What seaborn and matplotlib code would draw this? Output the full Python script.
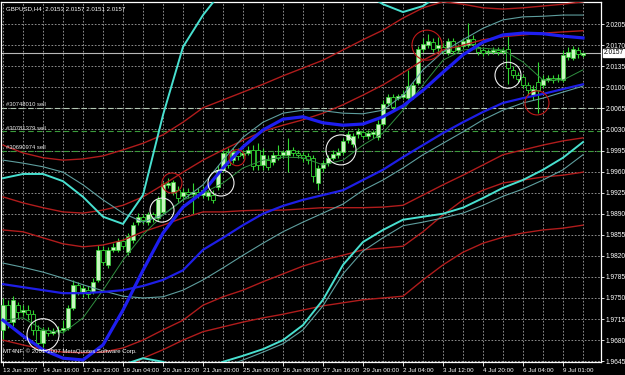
import numpy as np
import pandas as pd
import matplotlib
matplotlib.use("Agg")
import matplotlib.pyplot as plt
import matplotlib.transforms as mtransforms
import seaborn as sns

# ---------------- data ----------------
title_text = "GBPUSD,H4  2.0153 2.0157 2.0151 2.0157"
copyright_text = "MT4NF, \u00a9 2001-2007 MetaQuotes Software Corp."

opens = [1.9697,1.9738,1.9710,1.9738,1.9727,1.9730,1.9723,1.9697,1.9675,1.9697,
         1.9692,1.9695,1.9697,1.9700,1.9733,1.9772,1.9760,1.9763,1.9760,1.9780,
         1.9830,1.9805,1.9830,1.9830,1.9845,1.9826,1.9846,1.9876,1.9884,1.9876,
         1.9889,1.9883,1.9893,1.9938,1.9926,1.9929,1.9919,1.9926,1.9923,1.9926,
         1.9921,1.9919,1.9921,1.9934,1.9962,1.9992,1.9979,1.9992,1.9987,1.9991,
         1.9996,1.9996,1.9971,1.9979,1.9976,1.9987,1.9987,1.9987,1.9996,1.9991,
         1.9987,1.9986,1.9982,1.9941,1.9966,1.9974,1.9982,1.9987,1.9992,2.0012,
         2.0006,2.0022,2.0026,2.0019,2.0022,2.0017,2.0039,2.0074,2.0084,2.0082,
         2.0084,2.0082,2.0084,2.0107,2.0164,2.0170,2.0175,2.0165,2.0167,2.0157,
         2.0177,2.0162,2.0169,2.0170,2.0180,2.0167,2.0162,2.0159,2.0159,2.0162,
         2.0159,2.0164,2.0129,2.0120,2.0117,2.0104,2.0087,2.0109,2.0104,2.0112,
         2.0115,2.0114,2.0112,2.0150,2.0149,2.0162,2.0153]
highs = [1.9750,1.9747,1.9753,1.9743,1.9738,1.9738,1.9730,1.9705,1.9702,1.9702,
         1.9700,1.9703,1.9713,1.9738,1.9780,1.9777,1.9772,1.9770,1.9783,1.9838,
         1.9836,1.9835,1.9841,1.9850,1.9850,1.9858,1.9876,1.9891,1.9889,1.9893,
         1.9893,1.9919,1.9943,1.9949,1.9946,1.9936,1.9933,1.9933,1.9941,1.9933,
         1.9936,1.9929,1.9929,1.9971,1.9996,1.9999,1.9999,1.9999,1.9996,2.0002,
         2.0004,2.0007,1.9999,1.9987,1.9992,2.0004,1.9996,2.0016,2.0001,1.9996,
         1.9992,1.9991,1.9987,1.9971,1.9979,1.9987,1.9996,1.9999,2.0016,2.0027,
         2.0024,2.0032,2.0029,2.0029,2.0029,2.0045,2.0079,2.0089,2.0089,2.0089,
         2.0095,2.0129,2.0109,2.0169,2.0182,2.0189,2.0182,2.0184,2.0174,2.0182,
         2.0182,2.0172,2.0182,2.0207,2.0187,2.0172,2.0167,2.0164,2.0167,2.0167,
         2.0167,2.0189,2.0135,2.0125,2.0122,2.0109,2.0104,2.0142,2.0120,2.0120,
         2.0120,2.0122,2.0162,2.0167,2.0169,2.0167,2.0157]
lows = [1.9680,1.9700,1.9703,1.9717,1.9720,1.9713,1.9689,1.9667,1.9669,1.9687,
        1.9689,1.9690,1.9692,1.9697,1.9730,1.9755,1.9752,1.9750,1.9757,1.9777,
        1.9805,1.9800,1.9826,1.9826,1.9831,1.9821,1.9841,1.9871,1.9873,1.9871,
        1.9876,1.9878,1.9889,1.9933,1.9921,1.9909,1.9912,1.9916,1.9889,1.9916,
        1.9916,1.9912,1.9907,1.9929,1.9959,1.9966,1.9974,1.9979,1.9982,1.9987,
        1.9962,1.9962,1.9962,1.9962,1.9971,1.9979,1.9982,1.9959,1.9986,1.9982,
        1.9976,1.9972,1.9943,1.9929,1.9959,1.9969,1.9979,1.9982,1.9987,2.0007,
        2.0001,2.0016,2.0014,2.0014,2.0016,2.0012,2.0036,2.0069,2.0062,2.0079,
        2.0081,2.0079,2.0081,2.0104,2.0159,2.0165,2.0159,2.0159,2.0155,2.0154,
        2.0155,2.0157,2.0165,2.0167,2.0169,2.0154,2.0152,2.0154,2.0155,2.0154,
        2.0155,2.0105,2.0115,2.0109,2.0099,2.0087,2.0079,2.0057,2.0099,2.0109,
        2.0107,2.0109,2.0109,2.0145,2.0145,2.0149,2.0151]
closes = [1.9738,1.9710,1.9747,1.9727,1.9730,1.9723,1.9697,1.9675,1.9697,1.9692,
          1.9695,1.9697,1.9700,1.9733,1.9772,1.9760,1.9767,1.9757,1.9777,1.9830,
          1.9810,1.9830,1.9835,1.9845,1.9836,1.9853,1.9871,1.9884,1.9879,1.9889,
          1.9883,1.9914,1.9939,1.9941,1.9943,1.9916,1.9926,1.9923,1.9926,1.9921,
          1.9929,1.9926,1.9912,1.9962,1.9991,1.9971,1.9992,1.9986,1.9991,1.9996,
          1.9969,1.9971,1.9987,1.9967,1.9987,1.9982,1.9992,1.9996,1.9991,1.9987,
          1.9982,1.9979,1.9953,1.9966,1.9974,1.9982,1.9989,1.9992,2.0011,2.0022,
          2.0019,2.0027,2.0019,2.0024,2.0026,2.0039,2.0072,2.0084,2.0067,2.0086,
          2.0089,2.0102,2.0104,2.0164,2.0172,2.0177,2.0164,2.0170,2.0160,2.0177,
          2.0160,2.0167,2.0177,2.0180,2.0172,2.0159,2.0157,2.0160,2.0162,2.0159,
          2.0162,2.0132,2.0120,2.0114,2.0104,2.0095,2.0097,2.0095,2.0114,2.0115,
          2.0112,2.0115,2.0154,2.0159,2.0164,2.0155,2.0157]

# indicator lines, sampled every 4 bars
line_bars = list(range(0, 117, 4))
blue_ma = [1.9713,1.9687,1.9664,1.9650,1.9647,1.9672,1.9730,1.9796,1.9858,1.9901,
           1.9926,1.9966,2.0001,2.0029,2.0047,2.0051,2.0041,2.0037,2.0039,2.0051,
           2.0069,2.0095,2.0125,2.0154,2.0175,2.0187,2.0190,2.0189,2.0185,2.0182]
blue_low = [1.9773,1.9768,1.9763,1.9758,1.9758,1.9760,1.9763,1.9770,1.9780,1.9796,
            1.9830,1.9850,1.9871,1.9890,1.9903,1.9913,1.9921,1.9929,1.9946,1.9963,
            1.9984,2.0004,2.0024,2.0042,2.0059,2.0074,2.0082,2.0089,2.0097,2.0105]
teal_low = [1.9808,1.9801,1.9793,1.9783,1.9772,1.9762,1.9753,1.9750,1.9752,1.9763,
            1.9780,1.9800,1.9821,1.9841,1.9860,1.9876,1.9891,1.9906,1.9929,1.9946,
            1.9966,1.9988,2.0007,2.0026,2.0046,2.0062,2.0074,2.0082,2.0092,2.0102]
teal_up = [1.9979,1.9974,1.9968,1.9959,1.9938,1.9913,1.9891,1.9876,1.9888,1.9913,
           1.9938,1.9979,2.0017,2.0042,2.0057,2.0062,2.0061,2.0057,2.0056,2.0062,
           2.0087,2.0129,2.0159,2.0179,2.0198,2.0212,2.0217,2.0218,2.0220,2.0220]
cyan_up = [1.9949,1.9956,1.9956,1.9944,1.9918,1.9885,1.9873,1.9921,2.0054,2.0167,
           2.0220,2.0262,2.0295,2.0311,2.0311,2.0311,2.0295,2.0278,2.0258,2.0238,
           2.0225,2.0235,2.0258,2.0278,2.0295,2.0295,2.0295,2.0295,2.0295,2.0295]
cyan_low = [1.9581,1.9581,1.9589,1.9597,1.9605,1.9622,1.9639,1.9650,1.9644,1.9627,
            1.9630,1.9644,1.9654,1.9665,1.9680,1.9705,1.9747,1.9805,1.9843,1.9863,
            1.9880,1.9885,1.9890,1.9900,1.9916,1.9933,1.9946,1.9963,1.9983,2.0009]
teal_low2 = [1.9572,1.9572,1.9581,1.9589,1.9597,1.9614,1.9630,1.9642,1.9635,1.9619,
             1.9622,1.9635,1.9647,1.9660,1.9674,1.9697,1.9737,1.9790,1.9828,1.9850,
             1.9870,1.9876,1.9883,1.9891,1.9904,1.9919,1.9931,1.9946,1.9963,1.9988]
red_1 = [2.0004,1.9991,1.9983,1.9979,1.9981,1.9986,1.9996,2.0007,2.0021,2.0042,
         2.0066,2.0079,2.0092,2.0105,2.0119,2.0132,2.0145,2.0162,2.0179,2.0195,
         2.0215,2.0232,2.0242,2.0238,2.0232,2.0230,2.0232,2.0235,2.0238,2.0242]
red_2 = [1.9918,1.9908,1.9900,1.9893,1.9891,1.9896,1.9904,1.9918,1.9938,1.9959,
         1.9979,1.9996,2.0012,2.0027,2.0037,2.0046,2.0057,2.0071,2.0087,2.0104,
         2.0124,2.0145,2.0162,2.0170,2.0179,2.0184,2.0187,2.0190,2.0192,2.0194]
red_3 = [1.9863,1.9860,1.9850,1.9840,1.9835,1.9838,1.9846,1.9860,1.9871,1.9883,
         1.9893,1.9893,1.9895,1.9896,1.9896,1.9898,1.9900,1.9900,1.9900,1.9901,
         1.9904,1.9921,1.9938,1.9954,1.9971,1.9988,1.9996,2.0004,2.0011,2.0016]
red_4 = [1.9680,1.9672,1.9665,1.9660,1.9659,1.9660,1.9667,1.9680,1.9697,1.9713,
         1.9738,1.9752,1.9763,1.9777,1.9790,1.9803,1.9813,1.9821,1.9830,1.9833,
         1.9836,1.9860,1.9888,1.9913,1.9929,1.9941,1.9946,1.9951,1.9954,1.9959]
red_5 = [1.9581,1.9581,1.9581,1.9584,1.9589,1.9605,1.9630,1.9650,1.9664,1.9680,
         1.9694,1.9702,1.9710,1.9717,1.9723,1.9730,1.9737,1.9742,1.9747,1.9750,
         1.9753,1.9780,1.9805,1.9826,1.9841,1.9851,1.9858,1.9863,1.9866,1.9871]
green_ma = [1.9713,1.9717,1.9697,1.9692,1.9717,1.9763,1.9813,1.9855,1.9888,1.9913,
            1.9924,1.9941,1.9966,1.9979,1.9984,1.9983,1.9971,1.9979,2.0004,2.0024,
            2.0062,2.0104,2.0145,2.0162,2.0165,2.0162,2.0142,2.0112,2.0112,2.0129]

# pending order lines
order_prices = [2.0066, 2.0027, 1.9994]
order_labels = ["#30748010 sell", "#30781379 sell", "#30690974 sell"]

# annotation circles (bar index, price)
circle_bars = [8.0, 31.8, 43.6, 67.6, 101.0, 33.8, 46.8, 84.8, 106.8]
circle_prices = [1.9689, 1.9896, 1.9941, 1.9996, 2.0120, 1.9941, 1.9983, 2.0170, 2.0074]
circle_kind = ["w", "w", "w", "w", "w", "r", "r", "r", "r"]

current_price = 2.0157
y_ticks = [2.0205, 2.0170, 2.0135, 2.0100, 2.0065, 2.0030, 1.9995, 1.9960, 1.9925,
           1.9890, 1.9855, 1.9820, 1.9785, 1.9750, 1.9715, 1.9680, 1.9645]
x_tick_bars = list(range(0, 113, 8))
x_tick_labels = ["13 Jun 2007", "14 Jun 16:00", "17 Jun 23:00", "19 Jun 04:00",
                 "20 Jun 12:00", "21 Jun 20:00", "25 Jun 00:00", "26 Jun 08:00",
                 "27 Jun 16:00", "29 Jun 00:00", "2 Jul 04:00", "3 Jul 12:00",
                 "4 Jul 20:00", "6 Jul 04:00", "9 Jul 01:00"]

# ---------------- style ----------------
plt.rcParams['font.family'] = ['Liberation Sans', 'DejaVu Sans']
FG = "white"
GRID = "#a4a4a4"
CANDLE_EDGE = "#33d633"
BULL_FILL = "#c8f8c0"

fig = plt.figure(figsize=(6.25, 3.75), dpi=100, facecolor="black")
ax = fig.add_axes([1/625, 1 - 362/375, 600/625, 360/375], facecolor="black")

ax.set_xlim(-0.4, 119.6)
ax.set_ylim(1.964367, 2.024168)

# grid
for yv in y_ticks:
    ax.axhline(yv, color=GRID, lw=0.6, ls=(0, (2, 2)), zorder=0)
for xb in range(0, 120, 4):
    ax.axvline(xb, color=GRID, lw=0.6, ls=(0, (2, 2)), zorder=0)

# order lines
order_colors = ["#b4c8b4", "#3c9c3c", "#3c9c3c"]
for p, lab, col in zip(order_prices, order_labels, order_colors):
    ax.axhline(p, color=col, lw=0.8, ls=(0, (5, 3)), zorder=1)
    ax.text(0.5, p + 0.00012, lab, color="#e8e8e8", fontsize=4.2,
            va="bottom", ha="left", zorder=6)

# current price line
ax.axhline(current_price, color="#b8b8b8", lw=0.8, zorder=1)

# candles
o = np.array(opens); h = np.array(highs); l = np.array(lows); c = np.array(closes)
idx = np.arange(len(o))
ax.vlines(idx, l, h, color=CANDLE_EDGE, lw=0.8, zorder=2)
bull = c >= o
body_lo = np.minimum(o, c)
body_h = np.maximum(np.abs(c - o), 0.00012)
ax.bar(idx[bull], body_h[bull], bottom=body_lo[bull], width=0.68,
       color=BULL_FILL, edgecolor=CANDLE_EDGE, linewidth=0.5, zorder=3)
ax.bar(idx[~bull], body_h[~bull], bottom=body_lo[~bull], width=0.68,
       color="black", edgecolor=CANDLE_EDGE, linewidth=0.6, zorder=3)

# indicator lines via seaborn
series = [
    ("red_5", red_5, "#b01c1c", 1.0),
    ("red_4", red_4, "#b01c1c", 1.0),
    ("red_3", red_3, "#b01c1c", 1.0),
    ("red_2", red_2, "#b01c1c", 1.0),
    ("red_1", red_1, "#b01c1c", 1.0),
    ("teal_low2", teal_low2, "#5e9e9e", 0.8),
    ("teal_low", teal_low, "#5e9e9e", 0.8),
    ("teal_up", teal_up, "#5e9e9e", 0.8),
    ("green_ma", green_ma, "#2f8f3f", 0.7),
    ("cyan_low", cyan_low, "#48e0d0", 1.4),
    ("cyan_up", cyan_up, "#48e0d0", 1.4),
    ("blue_low", blue_low, "#1e1ee6", 1.6),
    ("blue_ma", blue_ma, "#1e1ef0", 2.3),
]
for name, vals, col, lw in series:
    df = pd.DataFrame({"bar": line_bars, "price": vals})
    sns.lineplot(data=df, x="bar", y="price", ax=ax, color=col, linewidth=lw,
                 estimator=None, sort=False, zorder=4)

# annotation circles
circle_sizes = [16, 12, 13, 15, 13, 10, 8, 15, 12]
for (b, p, k), r in zip(zip(circle_bars, circle_prices, circle_kind), circle_sizes):
    ax.scatter([b], [p], s=(1.44 * r) ** 2, facecolors="none",
               edgecolors=("#f0f0f0" if k == "w" else "#c01818"),
               linewidths=0.8, zorder=5)

ax.set_xlabel("")
ax.set_ylabel("")

# axes styling
for sp in ax.spines.values():
    sp.set_color(FG)
    sp.set_linewidth(0.9)
ax.yaxis.tick_right()
ax.set_yticks(y_ticks)
ax.set_yticklabels([f"{v:.4f}" for v in y_ticks])
ax.tick_params(axis="y", colors=FG, labelsize=4.8, length=2, width=0.6, pad=1.5)
ax.set_xticks(x_tick_bars)
ax.set_xticklabels(x_tick_labels, ha="left")
ax.tick_params(axis="x", colors=FG, labelsize=4.5, length=3, width=0.6, pad=1.5)

# texts
ax.text(0.008, 0.988, title_text, transform=ax.transAxes, color=FG, fontsize=4.4,
        va="top", ha="left", zorder=7)
ax.text(0.004, 0.03, copyright_text, transform=ax.transAxes, color=FG, fontsize=4.3,
        va="center", ha="left", zorder=7)
trans = mtransforms.blended_transform_factory(ax.transAxes, ax.transData)
ax.text(1.004, current_price, f"{current_price:.4f}", transform=trans, color="black",
        fontsize=4.8, va="center", ha="left", zorder=8, clip_on=False,
        bbox=dict(facecolor="white", edgecolor="white", pad=0.6))

fig.savefig("out.png", dpi=100, facecolor="black")
